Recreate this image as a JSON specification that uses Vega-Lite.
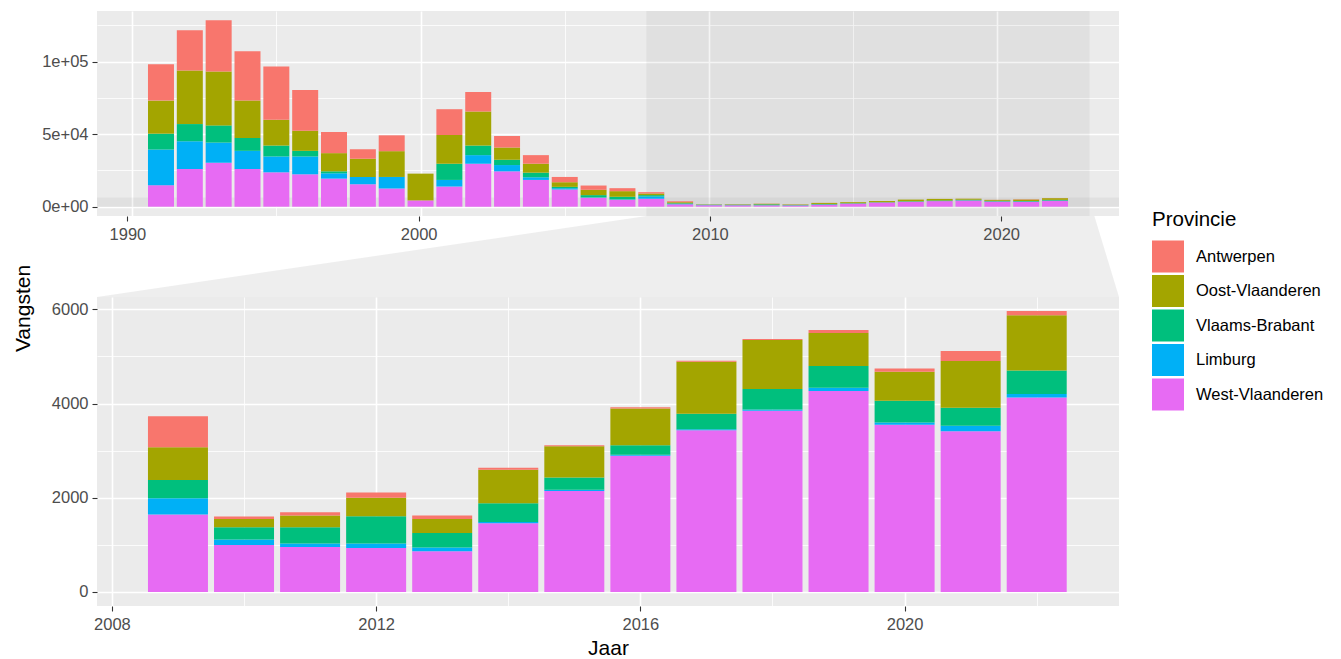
{
  "$schema": "https://vega.github.io/schema/vega-lite/v6.json",
  "padding": {"left": 12, "top": 11, "right": 0, "bottom": 0},
  "background": "white",
  "datasets": {
    "vangsten": [
      {"Jaar":1991,"Provincie":"West-Vlaanderen","Vangsten":14810},{"Jaar":1991,"Provincie":"Limburg","Vangsten":24600},{"Jaar":1991,"Provincie":"Vlaams-Brabant","Vangsten":10930},{"Jaar":1991,"Provincie":"Oost-Vlaanderen","Vangsten":22780},{"Jaar":1991,"Provincie":"Antwerpen","Vangsten":25060},
      {"Jaar":1992,"Provincie":"West-Vlaanderen","Vangsten":25970},{"Jaar":1992,"Provincie":"Limburg","Vangsten":19130},{"Jaar":1992,"Provincie":"Vlaams-Brabant","Vangsten":11850},{"Jaar":1992,"Provincie":"Oost-Vlaanderen","Vangsten":36900},{"Jaar":1992,"Provincie":"Antwerpen","Vangsten":27800},
      {"Jaar":1993,"Provincie":"West-Vlaanderen","Vangsten":30300},{"Jaar":1993,"Provincie":"Limburg","Vangsten":13890},{"Jaar":1993,"Provincie":"Vlaams-Brabant","Vangsten":11850},{"Jaar":1993,"Provincie":"Oost-Vlaanderen","Vangsten":37130},{"Jaar":1993,"Provincie":"Antwerpen","Vangsten":35310},
      {"Jaar":1994,"Provincie":"West-Vlaanderen","Vangsten":25970},{"Jaar":1994,"Provincie":"Limburg","Vangsten":12530},{"Jaar":1994,"Provincie":"Vlaams-Brabant","Vangsten":8880},{"Jaar":1994,"Provincie":"Oost-Vlaanderen","Vangsten":25740},{"Jaar":1994,"Provincie":"Antwerpen","Vangsten":33950},
      {"Jaar":1995,"Provincie":"West-Vlaanderen","Vangsten":23690},{"Jaar":1995,"Provincie":"Limburg","Vangsten":10940},{"Jaar":1995,"Provincie":"Vlaams-Brabant","Vangsten":7510},{"Jaar":1995,"Provincie":"Oost-Vlaanderen","Vangsten":17770},{"Jaar":1995,"Provincie":"Antwerpen","Vangsten":36680},
      {"Jaar":1996,"Provincie":"West-Vlaanderen","Vangsten":22320},{"Jaar":1996,"Provincie":"Limburg","Vangsten":12300},{"Jaar":1996,"Provincie":"Vlaams-Brabant","Vangsten":3870},{"Jaar":1996,"Provincie":"Oost-Vlaanderen","Vangsten":13890},{"Jaar":1996,"Provincie":"Antwerpen","Vangsten":28020},
      {"Jaar":1997,"Provincie":"West-Vlaanderen","Vangsten":19360},{"Jaar":1997,"Provincie":"Limburg","Vangsten":3650},{"Jaar":1997,"Provincie":"Vlaams-Brabant","Vangsten":1370},{"Jaar":1997,"Provincie":"Oost-Vlaanderen","Vangsten":12530},{"Jaar":1997,"Provincie":"Antwerpen","Vangsten":14580},
      {"Jaar":1998,"Provincie":"West-Vlaanderen","Vangsten":15490},{"Jaar":1998,"Provincie":"Limburg","Vangsten":5010},{"Jaar":1998,"Provincie":"Vlaams-Brabant","Vangsten":0},{"Jaar":1998,"Provincie":"Oost-Vlaanderen","Vangsten":12530},{"Jaar":1998,"Provincie":"Antwerpen","Vangsten":6610},
      {"Jaar":1999,"Provincie":"West-Vlaanderen","Vangsten":12530},{"Jaar":1999,"Provincie":"Limburg","Vangsten":7970},{"Jaar":1999,"Provincie":"Vlaams-Brabant","Vangsten":0},{"Jaar":1999,"Provincie":"Oost-Vlaanderen","Vangsten":17770},{"Jaar":1999,"Provincie":"Antwerpen","Vangsten":10930},
      {"Jaar":2000,"Provincie":"West-Vlaanderen","Vangsten":4330},{"Jaar":2000,"Provincie":"Limburg","Vangsten":0},{"Jaar":2000,"Provincie":"Vlaams-Brabant","Vangsten":0},{"Jaar":2000,"Provincie":"Oost-Vlaanderen","Vangsten":18450},{"Jaar":2000,"Provincie":"Antwerpen","Vangsten":0},
      {"Jaar":2001,"Provincie":"West-Vlaanderen","Vangsten":13890},{"Jaar":2001,"Provincie":"Limburg","Vangsten":4560},{"Jaar":2001,"Provincie":"Vlaams-Brabant","Vangsten":11160},{"Jaar":2001,"Provincie":"Oost-Vlaanderen","Vangsten":19820},{"Jaar":2001,"Provincie":"Antwerpen","Vangsten":17770},
      {"Jaar":2002,"Provincie":"West-Vlaanderen","Vangsten":29610},{"Jaar":2002,"Provincie":"Limburg","Vangsten":5930},{"Jaar":2002,"Provincie":"Vlaams-Brabant","Vangsten":6600},{"Jaar":2002,"Provincie":"Oost-Vlaanderen","Vangsten":23470},{"Jaar":2002,"Provincie":"Antwerpen","Vangsten":13440},
      {"Jaar":2003,"Provincie":"West-Vlaanderen","Vangsten":24370},{"Jaar":2003,"Provincie":"Limburg","Vangsten":4330},{"Jaar":2003,"Provincie":"Vlaams-Brabant","Vangsten":3650},{"Jaar":2003,"Provincie":"Oost-Vlaanderen","Vangsten":8430},{"Jaar":2003,"Provincie":"Antwerpen","Vangsten":7970},
      {"Jaar":2004,"Provincie":"West-Vlaanderen","Vangsten":18450},{"Jaar":2004,"Provincie":"Limburg","Vangsten":1820},{"Jaar":2004,"Provincie":"Vlaams-Brabant","Vangsten":3190},{"Jaar":2004,"Provincie":"Oost-Vlaanderen","Vangsten":6150},{"Jaar":2004,"Provincie":"Antwerpen","Vangsten":5930},
      {"Jaar":2005,"Provincie":"West-Vlaanderen","Vangsten":11850},{"Jaar":2005,"Provincie":"Limburg","Vangsten":910},{"Jaar":2005,"Provincie":"Vlaams-Brabant","Vangsten":910},{"Jaar":2005,"Provincie":"Oost-Vlaanderen","Vangsten":3190},{"Jaar":2005,"Provincie":"Antwerpen","Vangsten":3640},
      {"Jaar":2006,"Provincie":"West-Vlaanderen","Vangsten":6150},{"Jaar":2006,"Provincie":"Limburg","Vangsten":230},{"Jaar":2006,"Provincie":"Vlaams-Brabant","Vangsten":1590},{"Jaar":2006,"Provincie":"Oost-Vlaanderen","Vangsten":3650},{"Jaar":2006,"Provincie":"Antwerpen","Vangsten":2960},
      {"Jaar":2007,"Provincie":"West-Vlaanderen","Vangsten":4780},{"Jaar":2007,"Provincie":"Limburg","Vangsten":230},{"Jaar":2007,"Provincie":"Vlaams-Brabant","Vangsten":1820},{"Jaar":2007,"Provincie":"Oost-Vlaanderen","Vangsten":3870},{"Jaar":2007,"Provincie":"Antwerpen","Vangsten":2060},
      {"Jaar":2008,"Provincie":"West-Vlaanderen","Vangsten":5470},{"Jaar":2008,"Provincie":"Limburg","Vangsten":1590},{"Jaar":2008,"Provincie":"Vlaams-Brabant","Vangsten":910},{"Jaar":2008,"Provincie":"Oost-Vlaanderen","Vangsten":1140},{"Jaar":2008,"Provincie":"Antwerpen","Vangsten":910},
      {"Jaar":2009,"Provincie":"West-Vlaanderen","Vangsten":1643},{"Jaar":2009,"Provincie":"Limburg","Vangsten":348},{"Jaar":2009,"Provincie":"Vlaams-Brabant","Vangsten":389},{"Jaar":2009,"Provincie":"Oost-Vlaanderen","Vangsten":694},{"Jaar":2009,"Provincie":"Antwerpen","Vangsten":659},
      {"Jaar":2010,"Provincie":"West-Vlaanderen","Vangsten":999},{"Jaar":2010,"Provincie":"Limburg","Vangsten":113},{"Jaar":2010,"Provincie":"Vlaams-Brabant","Vangsten":262},{"Jaar":2010,"Provincie":"Oost-Vlaanderen","Vangsten":177},{"Jaar":2010,"Provincie":"Antwerpen","Vangsten":50},
      {"Jaar":2011,"Provincie":"West-Vlaanderen","Vangsten":956},{"Jaar":2011,"Provincie":"Limburg","Vangsten":71},{"Jaar":2011,"Provincie":"Vlaams-Brabant","Vangsten":347},{"Jaar":2011,"Provincie":"Oost-Vlaanderen","Vangsten":248},{"Jaar":2011,"Provincie":"Antwerpen","Vangsten":71},
      {"Jaar":2012,"Provincie":"West-Vlaanderen","Vangsten":935},{"Jaar":2012,"Provincie":"Limburg","Vangsten":92},{"Jaar":2012,"Provincie":"Vlaams-Brabant","Vangsten":581},{"Jaar":2012,"Provincie":"Oost-Vlaanderen","Vangsten":390},{"Jaar":2012,"Provincie":"Antwerpen","Vangsten":113},
      {"Jaar":2013,"Provincie":"West-Vlaanderen","Vangsten":864},{"Jaar":2013,"Provincie":"Limburg","Vangsten":78},{"Jaar":2013,"Provincie":"Vlaams-Brabant","Vangsten":312},{"Jaar":2013,"Provincie":"Oost-Vlaanderen","Vangsten":297},{"Jaar":2013,"Provincie":"Antwerpen","Vangsten":71},
      {"Jaar":2014,"Provincie":"West-Vlaanderen","Vangsten":1459},{"Jaar":2014,"Provincie":"Limburg","Vangsten":29},{"Jaar":2014,"Provincie":"Vlaams-Brabant","Vangsten":396},{"Jaar":2014,"Provincie":"Oost-Vlaanderen","Vangsten":709},{"Jaar":2014,"Provincie":"Antwerpen","Vangsten":42},
      {"Jaar":2015,"Provincie":"West-Vlaanderen","Vangsten":2146},{"Jaar":2015,"Provincie":"Limburg","Vangsten":22},{"Jaar":2015,"Provincie":"Vlaams-Brabant","Vangsten":262},{"Jaar":2015,"Provincie":"Oost-Vlaanderen","Vangsten":666},{"Jaar":2015,"Provincie":"Antwerpen","Vangsten":21},
      {"Jaar":2016,"Provincie":"West-Vlaanderen","Vangsten":2890},{"Jaar":2016,"Provincie":"Limburg","Vangsten":21},{"Jaar":2016,"Provincie":"Vlaams-Brabant","Vangsten":206},{"Jaar":2016,"Provincie":"Oost-Vlaanderen","Vangsten":779},{"Jaar":2016,"Provincie":"Antwerpen","Vangsten":28},
      {"Jaar":2017,"Provincie":"West-Vlaanderen","Vangsten":3436},{"Jaar":2017,"Provincie":"Limburg","Vangsten":21},{"Jaar":2017,"Provincie":"Vlaams-Brabant","Vangsten":326},{"Jaar":2017,"Provincie":"Oost-Vlaanderen","Vangsten":1105},{"Jaar":2017,"Provincie":"Antwerpen","Vangsten":21},
      {"Jaar":2018,"Provincie":"West-Vlaanderen","Vangsten":3847},{"Jaar":2018,"Provincie":"Limburg","Vangsten":28},{"Jaar":2018,"Provincie":"Vlaams-Brabant","Vangsten":432},{"Jaar":2018,"Provincie":"Oost-Vlaanderen","Vangsten":1041},{"Jaar":2018,"Provincie":"Antwerpen","Vangsten":22},
      {"Jaar":2019,"Provincie":"West-Vlaanderen","Vangsten":4265},{"Jaar":2019,"Provincie":"Limburg","Vangsten":70},{"Jaar":2019,"Provincie":"Vlaams-Brabant","Vangsten":461},{"Jaar":2019,"Provincie":"Oost-Vlaanderen","Vangsten":701},{"Jaar":2019,"Provincie":"Antwerpen","Vangsten":64},
      {"Jaar":2020,"Provincie":"West-Vlaanderen","Vangsten":3549},{"Jaar":2020,"Provincie":"Limburg","Vangsten":50},{"Jaar":2020,"Provincie":"Vlaams-Brabant","Vangsten":460},{"Jaar":2020,"Provincie":"Oost-Vlaanderen","Vangsten":616},{"Jaar":2020,"Provincie":"Antwerpen","Vangsten":71},
      {"Jaar":2021,"Provincie":"West-Vlaanderen","Vangsten":3414},{"Jaar":2021,"Provincie":"Limburg","Vangsten":114},{"Jaar":2021,"Provincie":"Vlaams-Brabant","Vangsten":382},{"Jaar":2021,"Provincie":"Oost-Vlaanderen","Vangsten":992},{"Jaar":2021,"Provincie":"Antwerpen","Vangsten":213},
      {"Jaar":2022,"Provincie":"West-Vlaanderen","Vangsten":4130},{"Jaar":2022,"Provincie":"Limburg","Vangsten":71},{"Jaar":2022,"Provincie":"Vlaams-Brabant","Vangsten":503},{"Jaar":2022,"Provincie":"Oost-Vlaanderen","Vangsten":1169},{"Jaar":2022,"Provincie":"Antwerpen","Vangsten":92}
    ],
    "zoomgebied": [{"van": 2007.83, "tot": 2023.2, "onder": -298, "boven": 6263}],
    "verbinding": [
      {"niveau": 1, "links": 2007.83, "rechts": 2023.2},
      {"niveau": 0, "links": 1988.955, "rechts": 2024.045}
    ]
  },
  "spacing": 0,
  "bounds": "flush",
  "resolve": {"scale": {"x": "independent", "y": "independent", "color": "shared"}},
  "vconcat": [
    {
      "width": 1022,
      "height": 205,
      "view": {"fill": "#EBEBEB", "stroke": null},
      "layer": [
        {
          "data": {"name": "zoomgebied"},
          "mark": {"type": "rect", "fill": "#000000", "opacity": 0.045},
          "encoding": {
            "x": {"field": "van", "type": "quantitative", "scale": {"domain": [1988.955, 2024.045], "nice": false, "zero": false},
              "axis": {"title": null, "labels": false, "ticks": false, "domain": false, "grid": true, "values": [1990, 1995, 2000, 2005, 2010, 2015, 2020], "gridWidth": {"condition": {"test": "datum.value % 10 == 0", "value": 1.6}, "value": 0.8}}},
            "x2": {"field": "tot"}
          }
        },
        {
          "data": {"name": "zoomgebied"},
          "mark": {"type": "rect", "fill": "#000000", "opacity": 0.045},
          "encoding": {
            "y": {"field": "onder", "type": "quantitative", "scale": {"domain": [-6424, 134904], "nice": false, "zero": false},
              "axis": {"title": null, "values": [0, 25000, 50000, 75000, 100000, 125000], "labelExpr": "datum.value == 0 ? '0e+00' : datum.value == 50000 ? '5e+04' : datum.value == 100000 ? '1e+05' : ''", "tickOpacity": {"condition": {"test": "datum.value % 50000 == 0", "value": 1}, "value": 0}, "gridWidth": {"condition": {"test": "datum.value % 50000 == 0", "value": 1.6}, "value": 0.8}}},
            "y2": {"field": "boven"}
          }
        },
        {
          "data": {"name": "vangsten"},
          "transform": [{"calculate": "indexof(['West-Vlaanderen','Limburg','Vlaams-Brabant','Oost-Vlaanderen','Antwerpen'], datum.Provincie)", "as": "rang"}],
          "mark": {"type": "bar", "width": 26},
          "encoding": {
            "x": {"field": "Jaar", "type": "quantitative",
              "axis": {"title": null, "labels": false, "ticks": false, "domain": false, "grid": true, "values": [1990, 1995, 2000, 2005, 2010, 2015, 2020], "gridWidth": {"condition": {"test": "datum.value % 10 == 0", "value": 1.6}, "value": 0.8}}},
            "y": {"field": "Vangsten", "type": "quantitative", "stack": "zero",
              "axis": {"title": null, "values": [0, 25000, 50000, 75000, 100000, 125000], "labelExpr": "datum.value == 0 ? '0e+00' : datum.value == 50000 ? '5e+04' : datum.value == 100000 ? '1e+05' : ''", "tickOpacity": {"condition": {"test": "datum.value % 50000 == 0", "value": 1}, "value": 0}, "gridWidth": {"condition": {"test": "datum.value % 50000 == 0", "value": 1.6}, "value": 0.8}}},
            "color": {"field": "Provincie", "type": "nominal", "title": "Provincie",
              "scale": {"domain": ["Antwerpen", "Oost-Vlaanderen", "Vlaams-Brabant", "Limburg", "West-Vlaanderen"], "range": ["#F8766D", "#A3A500", "#00BF7D", "#00B0F6", "#E76BF3"]},
              "legend": {"orient": "none", "legendX": 1055, "legendY": 199}},
            "order": {"field": "rang", "type": "quantitative"}
          }
        }
      ]
    },
    {
      "width": 1022,
      "height": 81,
      "view": {"fill": null, "stroke": null},
      "data": {"name": "verbinding"},
      "mark": {"type": "area", "orient": "horizontal", "fill": "#EBEBEB", "opacity": 0.85},
      "encoding": {
        "y": {"field": "niveau", "type": "quantitative", "scale": {"domain": [0, 1], "nice": false, "zero": false}, "axis": null},
        "x": {"field": "links", "type": "quantitative", "scale": {"domain": [1988.955, 2024.045], "nice": false, "zero": false},
          "axis": {"title": null, "values": [1990, 2000, 2010, 2020], "format": "d", "grid": false, "domain": false, "orient": "bottom", "offset": -81, "zindex": 1, "labelPadding": 5}},
        "x2": {"field": "rechts"}
      }
    },
    {
      "width": 1022,
      "height": 309,
      "view": {"fill": "#EBEBEB", "stroke": null},
      "data": {"name": "vangsten"},
      "transform": [
        {"filter": "datum.Jaar >= 2009"},
        {"calculate": "indexof(['West-Vlaanderen','Limburg','Vlaams-Brabant','Oost-Vlaanderen','Antwerpen'], datum.Provincie)", "as": "rang"}
      ],
      "mark": {"type": "bar", "width": 60},
      "encoding": {
        "x": {"field": "Jaar", "type": "quantitative", "scale": {"domain": [2007.85, 2023.17], "nice": false, "zero": false},
          "axis": {"title": "Jaar", "values": [2008, 2010, 2012, 2014, 2016, 2018, 2020, 2022], "format": "d", "labelExpr": "datum.value % 4 == 0 ? datum.label : ''", "tickOpacity": {"condition": {"test": "datum.value % 4 == 0", "value": 1}, "value": 0}, "gridWidth": {"condition": {"test": "datum.value % 4 == 0", "value": 1.6}, "value": 0.8}, "labelPadding": 5, "titlePadding": 5}},
        "y": {"field": "Vangsten", "type": "quantitative", "stack": "zero", "scale": {"domain": [-298, 6263], "nice": false, "zero": false},
          "axis": {"title": "Vangsten", "titleX": -68, "titleY": 11, "titleBaseline": "alphabetic", "values": [0, 1000, 2000, 3000, 4000, 5000, 6000], "format": "d", "labelExpr": "datum.value % 2000 == 0 ? datum.label : ''", "tickOpacity": {"condition": {"test": "datum.value % 2000 == 0", "value": 1}, "value": 0}, "gridWidth": {"condition": {"test": "datum.value % 2000 == 0", "value": 1.6}, "value": 0.8}}},
        "color": {"field": "Provincie", "type": "nominal", "title": "Provincie",
          "scale": {"domain": ["Antwerpen", "Oost-Vlaanderen", "Vlaams-Brabant", "Limburg", "West-Vlaanderen"], "range": ["#F8766D", "#A3A500", "#00BF7D", "#00B0F6", "#E76BF3"]},
          "legend": {"orient": "none", "legendX": 1055, "legendY": 199}},
        "order": {"field": "rang", "type": "quantitative"}
      }
    }
  ],
  "config": {
    "font": "Liberation Sans",
    "view": {"stroke": null},
    "axis": {"labelColor": "#4D4D4D", "labelFontSize": 16.5, "labelFont": "Liberation Sans", "tickColor": "#333333", "tickSize": 5, "tickWidth": 1.1, "domain": false, "titleColor": "#000000", "titleFontSize": 21, "titleFontWeight": "normal", "titleFont": "Liberation Sans", "gridColor": "#FFFFFF", "labelFlush": false, "labelOverlap": false},
    "axisY": {"labelPadding": 4},
    "legend": {"symbolType": "square", "symbolSize": 1024, "symbolStrokeWidth": 0, "titleFontSize": 20.5, "titleFontWeight": "normal", "titleColor": "#000000", "titleFont": "Liberation Sans", "labelFontSize": 16.5, "labelColor": "#000000", "labelFont": "Liberation Sans", "labelOffset": 12, "rowPadding": 2.5, "titlePadding": 10, "padding": 0}
  }
}
